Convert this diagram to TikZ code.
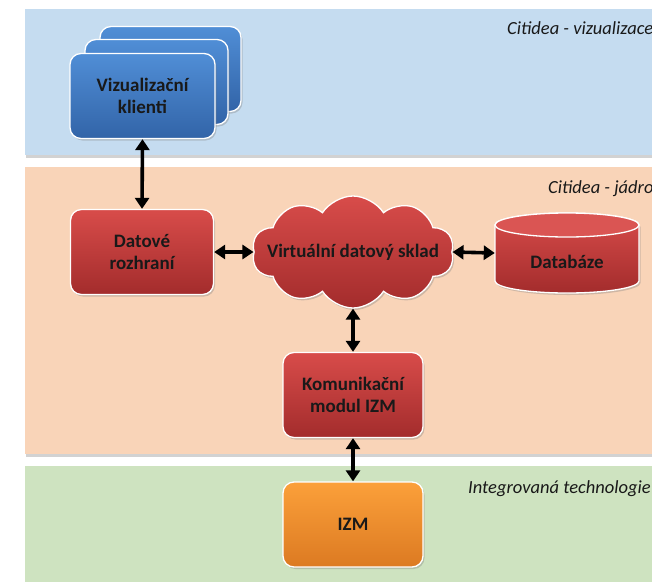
\documentclass[tikz,border=0pt]{standalone}
\usepackage{fontspec}
\setmainfont{Carlito}
\usetikzlibrary{shapes.symbols,arrows.meta,shadows}
\definecolor{bandblue}{RGB}{197,220,240}
\definecolor{bandorange}{RGB}{249,212,184}
\definecolor{bandgreen}{RGB}{206,227,192}
\definecolor{bluetop}{RGB}{80,142,214}
\definecolor{bluebot}{RGB}{50,100,168}
\definecolor{redtop}{RGB}{216,76,74}
\definecolor{redbot}{RGB}{163,44,44}
\definecolor{orgtop}{RGB}{251,160,58}
\definecolor{orgbot}{RGB}{220,122,34}
\definecolor{txt}{RGB}{25,25,25}
\begin{document}
\begin{tikzpicture}[x=1pt,y=-1pt,
  band/.style={draw=none, drop shadow={shadow xshift=0.5pt, shadow yshift=-2.5pt, opacity=0.35, fill=gray}},
  shad/.style={drop shadow={shadow xshift=1.5pt, shadow yshift=-2pt, opacity=0.35, fill=gray}},
  boxfont/.style={font=\bfseries\fontsize{19}{22.5}\selectfont, text=txt},
  box/.style={shad, boxfont, rounded corners=11pt, draw=white, line width=1.3pt,
    minimum width=143pt, minimum height=85pt, align=center},
  bluebox/.style={box, top color=bluetop, bottom color=bluebot},
  redbox/.style={box, top color=redtop, bottom color=redbot},
  orgbox/.style={box, top color=orgtop, bottom color=orgbot},
  link/.style={line width=3.6pt, {Triangle[width=14pt,length=11pt]}-{Triangle[width=14pt,length=11pt]}},
  lay/.style={font=\itshape\fontsize{18.5}{22}\selectfont, text=txt, anchor=base west, inner sep=0pt}
]
\useasboundingbox (0,0) rectangle (652,581);
\clip (0,0) rectangle (652,581);
\fill[white] (0,0) rectangle (652,581);

% bands
\path[band, fill=bandblue] (25,9) rectangle (670,155);
\path[band, fill=bandorange] (25,167) rectangle (670,454);
\path[band, fill=bandgreen] (25,466) rectangle (670,600);

\node[lay] (lv) at (507,34) {Citidea - vizualizace};
\node[lay] (lj) at (548,193) {Citidea - jádro};
\node[lay] (li) at (468,493) {Integrovaná technologie};

% visualisation clients (stack)
\node[bluebox, minimum width=141pt] (vb) at (170.5,69) {};
\node[bluebox] (vm) at (156.5,82) {};
\node[bluebox, minimum width=145pt] (vk) at (142.5,96) {Vizualizační\\klienti};

% core
\node[redbox] (dr) at (142,252) {Datové\\rozhraní};
\node[cloud, cloud puffs=10, cloud puff arc=115, aspect=1.7, shad,
      minimum width=202pt, minimum height=112pt, inner sep=0pt,
      draw=white, line width=1.3pt, top color=redtop, bottom color=redbot] (vds) at (353,252) {};
\node[boxfont, inner sep=0pt] (vdst) at (353,252) {Virtuální datový sklad};

% database cylinder
\node[minimum width=144pt, minimum height=80pt, inner sep=0pt] (db) at (567,253) {};
\path[shad, top color=redtop, bottom color=redbot, draw=white, line width=1.3pt]
  (495,225) -- (495,281) arc[start angle=180, end angle=360, x radius=72pt, y radius=12pt]
  -- (639,225) arc[start angle=0, end angle=180, x radius=72pt, y radius=12pt] -- cycle;
\draw[white, line width=1.3pt, fill=redtop!95!white] (567,225) ellipse[x radius=72pt, y radius=12pt];
\node[boxfont, anchor=base, inner sep=0pt] (dbt) at (567,268) {Databáze};

\node[redbox, minimum width=140pt] (km) at (353,395) {Komunikační\\modul IZM};

% integrated technology
\node[orgbox, minimum width=140pt] (izm) at (353,524.5) {IZM};

% connectors
\draw[link] (vk.south) -- (dr.north);
\draw[link] (dr.east) -- (vds.west);
\draw[link] (vds.east) -- (db.west);
\draw[link] (vds.south) -- (km.north);
\draw[link] (km.south) -- (izm.north);
\end{tikzpicture}
\end{document}
